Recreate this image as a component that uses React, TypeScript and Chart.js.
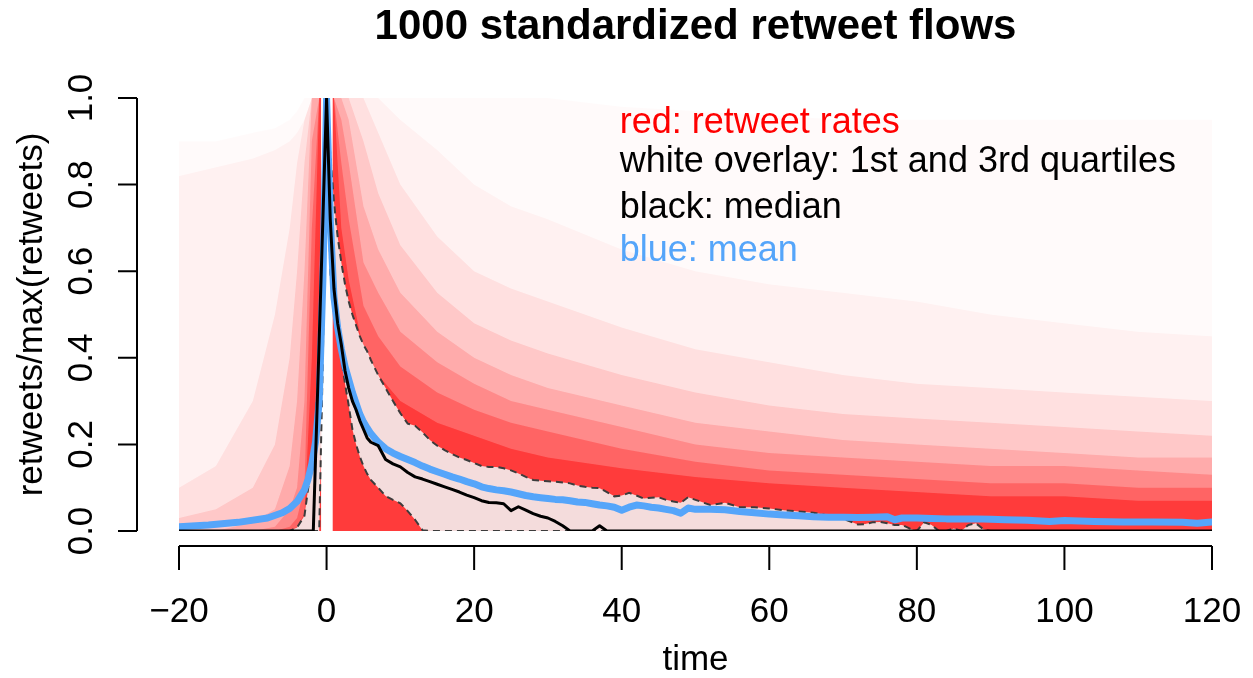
import React, { useEffect, useRef } from 'react';
import { Chart, registerables } from 'chart.js';

Chart.register(...registerables);

// ---------------- DATA ----------------
const xTicks = [-20, 0, 20, 40, 60, 80, 100, 120];
const xTickLabels = ['\u221220', '0', '20', '40', '60', '80', '100', '120'];
const yTicks = [0, 0.2, 0.4, 0.6, 0.8, 1.0];
const yTickLabels = ['0.0', '0.2', '0.4', '0.6', '0.8', '1.0'];

const titleText = '1000 standardized retweet flows';
const xTitle = 'time';
const yTitle = 'retweets/max(retweets)';
const legendLines = ['red: retweet rates', 'white overlay: 1st and 3rd quartiles', 'black: median', 'blue: mean'];

// red cloud of 1000 flows, summarised as density envelopes (outer -> inner)
const cloudX = [-20, -15, -10, -7, -5, -4, -3, -2, -1, 0, 1, 2, 3, 5, 7, 10, 15, 20, 25, 30, 40, 50, 60, 70, 80, 90, 100, 110, 120];
const cloudE1 = [0.9, 0.9, 0.92, 0.93, 0.95, 0.97, 1, 1, 1, 1, 1, 1, 1, 1, 1, 1, 1, 1, 1, 1, 0.98, 0.97, 0.96, 0.95, 0.95, 0.95, 0.95, 0.95, 0.95];
const cloudE2 = [0.82, 0.84, 0.86, 0.88, 0.9, 0.92, 0.95, 1, 1, 1, 1, 1, 1, 1, 1, 0.95, 0.88, 0.8, 0.75, 0.72, 0.65, 0.6, 0.57, 0.55, 0.53, 0.5, 0.48, 0.46, 0.45];
const cloudE3 = [0.1, 0.15, 0.3, 0.5, 0.7, 0.85, 0.95, 1, 1, 1, 1, 1, 1, 1, 0.92, 0.8, 0.68, 0.6, 0.56, 0.53, 0.47, 0.42, 0.39, 0.36, 0.34, 0.33, 0.32, 0.31, 0.3];
const cloudE4 = [0.03, 0.05, 0.1, 0.2, 0.4, 0.6, 0.85, 1, 1, 1, 1, 1, 1, 0.9, 0.78, 0.66, 0.55, 0.48, 0.44, 0.41, 0.36, 0.32, 0.29, 0.27, 0.26, 0.25, 0.24, 0.23, 0.22];
const cloudE5 = [0, 0, 0.02, 0.05, 0.15, 0.3, 0.6, 1, 1, 1, 1, 1, 0.95, 0.75, 0.65, 0.55, 0.46, 0.4, 0.36, 0.33, 0.29, 0.25, 0.23, 0.21, 0.2, 0.19, 0.18, 0.17, 0.17];
const cloudE6 = [0, 0, 0, 0.01, 0.05, 0.1, 0.3, 0.9, 1, 1, 1, 0.95, 0.85, 0.62, 0.55, 0.46, 0.39, 0.34, 0.3, 0.28, 0.24, 0.2, 0.18, 0.17, 0.16, 0.15, 0.15, 0.14, 0.13];
const cloudE7 = [0, 0, 0, 0, 0.01, 0.03, 0.1, 0.7, 1, 1, 1, 0.85, 0.72, 0.52, 0.45, 0.38, 0.32, 0.28, 0.25, 0.23, 0.19, 0.16, 0.14, 0.13, 0.12, 0.11, 0.11, 0.1, 0.1];
const cloudE8 = [0, 0, 0, 0, 0, 0.01, 0.04, 0.4, 1, 1, 1, 0.7, 0.58, 0.42, 0.36, 0.3, 0.25, 0.22, 0.19, 0.17, 0.145, 0.125, 0.11, 0.1, 0.09, 0.08, 0.08, 0.07, 0.07];

// empty gap around the peak
const gapX = [-0.75, 0.85];
const gapY = [1, 1];

// quartiles
const quartX = [
  -20, -5, -4, -3, -2, -1.5, -1, -0.5, 0,
  0.5, 1, 1.5, 2, 2.5, 3, 3.5, 4, 4.5, 5, 5.5,
  6, 7, 8, 9, 10, 11, 12, 13, 14, 15, 16, 17, 18, 19, 20, 21, 22, 23, 24, 25, 26, 27, 28, 29, 30,
  31, 32, 33, 34, 35, 36, 37, 38, 39, 40, 41, 42, 43, 44, 45, 46, 47, 48, 49, 50,
  52, 54, 56, 58, 60, 62, 64, 66, 68, 70,
  71, 72, 73, 74, 75, 76, 77, 78, 79, 80, 81, 82, 83, 84, 85, 86, 87, 88, 89, 90,
  100, 110, 120,
];
const q3Y = [
  0, 0, 0.008, 0.035, 0.16, 0.25, 0.4, 0.65, 1,
  0.87, 0.76, 0.68, 0.62, 0.57, 0.53, 0.5, 0.475, 0.45, 0.43, 0.415,
  0.395, 0.36, 0.33, 0.3, 0.272, 0.248, 0.243, 0.228, 0.21, 0.197, 0.187, 0.178, 0.17, 0.164, 0.157, 0.15, 0.148, 0.148, 0.145, 0.14, 0.133, 0.125, 0.118, 0.116, 0.115,
  0.114, 0.112, 0.11, 0.105, 0.102, 0.1, 0.099, 0.09, 0.08, 0.082, 0.088, 0.082, 0.075, 0.077, 0.078, 0.072, 0.068, 0.065, 0.078, 0.072,
  0.06, 0.065, 0.055, 0.055, 0.052, 0.048, 0.045, 0.042, 0.036, 0.028,
  0.022, 0.015, 0.016, 0.02, 0.021, 0.018, 0.014, 0.014, 0.006, 0, 0.02, 0.014, 0, 0, 0.006, 0, 0.014, 0.018, 0.004, 0,
  0, 0, 0,
];
const q1Y = [
  0, 0, 0, 0, 0, 0, 0, 0.4, 1,
  0.6, 0.5, 0.45, 0.4, 0.34, 0.29, 0.235, 0.2, 0.172, 0.15, 0.132,
  0.118, 0.1, 0.081, 0.072, 0.064, 0.046, 0.026, 0.002, 0, 0, 0, 0, 0, 0, 0, 0, 0, 0, 0, 0, 0, 0, 0, 0, 0,
  0, 0, 0, 0, 0, 0, 0, 0, 0, 0, 0, 0, 0, 0, 0, 0, 0, 0, 0, 0,
  0, 0, 0, 0, 0, 0, 0, 0, 0, 0,
  0, 0, 0, 0, 0, 0, 0, 0, 0, 0, 0, 0, 0, 0, 0, 0, 0, 0, 0, 0,
  0, 0, 0,
];

// median
const medianX = [
  -20, -1.8, -1, 0, 0.5, 1, 1.5, 2, 2.5, 3, 3.5, 4, 4.5, 5, 5.5,
  6, 7, 8, 9, 10, 11, 12, 13, 14, 15, 16, 17, 18, 19, 20, 21, 22,
  23, 24, 25, 26, 27, 28, 29, 30, 31, 32, 33, 34, 35, 36, 37, 38, 120,
];
const medianY = [
  0, 0, 0.44, 1, 0.72, 0.56, 0.48, 0.43, 0.37, 0.33, 0.3, 0.28, 0.255, 0.235, 0.215,
  0.205, 0.197, 0.165, 0.155, 0.148, 0.135, 0.125, 0.12, 0.114, 0.108, 0.102, 0.096, 0.09, 0.083, 0.077, 0.07, 0.066,
  0.065, 0.063, 0.047, 0.056, 0.048, 0.04, 0.034, 0.03, 0.022, 0.012, 0, 0, 0, 0, 0.012, 0, 0,
];

// mean
const meanX = [
  -20, -16, -12, -8, -6, -5, -4, -3, -2.5, -2, -1.5, -1, -0.5, 0,
  0.5, 1, 1.5, 2, 2.5, 3, 3.5, 4, 4.5, 5, 5.5,
  6, 7, 8, 9, 10, 11, 12, 13, 14, 15, 16, 17, 18, 19, 20, 21, 22, 23, 24, 25, 26, 27, 28, 29, 30,
  31, 32, 33, 34, 35, 36, 37, 38, 39, 40, 41, 42, 43, 44, 45, 46, 47, 48, 49, 50,
  52, 54, 56, 58, 60, 62, 64, 66, 68, 70, 72, 74, 76, 77,
  78, 80, 82, 84, 86, 88, 90, 92, 95, 98, 100, 104, 108, 112, 116, 118, 120,
];
const meanY = [
  0.01, 0.014, 0.02, 0.03, 0.042, 0.052, 0.068, 0.095, 0.12, 0.155, 0.205, 0.3, 0.58, 1,
  0.72, 0.54, 0.47, 0.42, 0.38, 0.35, 0.32, 0.295, 0.27, 0.252, 0.238,
  0.225, 0.205, 0.19, 0.18, 0.172, 0.165, 0.158, 0.15, 0.143, 0.137, 0.131, 0.125, 0.12, 0.114, 0.109, 0.102, 0.098, 0.095, 0.093, 0.09, 0.086, 0.082, 0.079, 0.077, 0.075,
  0.073, 0.072, 0.07, 0.067, 0.066, 0.063, 0.06, 0.058, 0.055, 0.048, 0.055, 0.06, 0.058, 0.055, 0.053, 0.05, 0.047, 0.041, 0.053, 0.05,
  0.05, 0.049, 0.045, 0.042, 0.039, 0.037, 0.035, 0.033, 0.032, 0.032, 0.031, 0.032, 0.033, 0.026,
  0.03, 0.03, 0.029, 0.028, 0.028, 0.028, 0.027, 0.026, 0.025, 0.022, 0.024, 0.022, 0.021, 0.021, 0.02, 0.018, 0.021,
];

// ---------------- STYLE ----------------
const FONT = '"Liberation Sans", Arial, Helvetica, sans-serif';
const BLUE = 'rgb(85,165,250)';
const legendColors = ['#ff0000', '#000000', '#000000', BLUE];
const cloudLayers = [cloudE1, cloudE2, cloudE3, cloudE4, cloudE5, cloudE6, cloudE7, cloudE8];
const cloudAlphas = [0.02, 0.04, 0.07, 0.11, 0.15, 0.2, 0.27, 0.42];

const pts = (xs: number[], ys: number[]) => xs.map((x, i) => ({ x, y: ys[i] }));

const rAxesPlugin = {
  id: 'rAxes',
  afterDraw(chart: any) {
    const { ctx, chartArea } = chart;
    const xs = chart.scales.x;
    const ys = chart.scales.y;
    ctx.save();
    ctx.strokeStyle = '#000';
    ctx.lineWidth = 2;
    ctx.lineCap = 'butt';
    const ax = chartArea.left - 42;
    const ay = chartArea.bottom + 15;
    ctx.beginPath();
    ctx.moveTo(ax, ys.getPixelForValue(yTicks[0]));
    ctx.lineTo(ax, ys.getPixelForValue(yTicks[yTicks.length - 1]));
    yTicks.forEach((v) => {
      const p = ys.getPixelForValue(v);
      ctx.moveTo(ax, p);
      ctx.lineTo(ax - 19, p);
    });
    ctx.moveTo(xs.getPixelForValue(xTicks[0]), ay);
    ctx.lineTo(xs.getPixelForValue(xTicks[xTicks.length - 1]), ay);
    xTicks.forEach((v) => {
      const p = xs.getPixelForValue(v);
      ctx.moveTo(p, ay);
      ctx.lineTo(p, ay + 24);
    });
    ctx.stroke();

    ctx.font = '36px ' + FONT;
    ctx.textAlign = 'left';
    ctx.textBaseline = 'alphabetic';
    const lx = xs.getPixelForValue(40) - 2;
    const offs = [35, 74, 120, 163];
    legendLines.forEach((t, i) => {
      ctx.fillStyle = legendColors[i];
      ctx.fillText(t, lx, chartArea.top + offs[i]);
    });
    ctx.restore();
  },
};

export default function App() {
  const ref = useRef<HTMLCanvasElement | null>(null);

  useEffect(() => {
    if (!ref.current) return;
    const datasets: any[] = [];
    // 0: median, 1: mean, 2: q1, 3: q3, 4: gap, 5..: cloud
    datasets.push({
      label: 'median', data: pts(medianX, medianY), borderColor: '#000', borderWidth: 3,
      pointRadius: 0, fill: false, order: 0, tension: 0, borderJoinStyle: 'round',
    });
    datasets.push({
      label: 'mean', data: pts(meanX, meanY), borderColor: BLUE, borderWidth: 7,
      pointRadius: 0, fill: false, order: 1, tension: 0, borderJoinStyle: 'round', borderCapStyle: 'round',
    });
    datasets.push({
      label: 'q1', data: pts(quartX, q1Y), borderColor: '#3c3c3c', borderWidth: 2, borderDash: [7, 5],
      pointRadius: 0, fill: false, order: 2, tension: 0,
    });
    datasets.push({
      label: 'q3', data: pts(quartX, q3Y), borderColor: '#3c3c3c', borderWidth: 2, borderDash: [7, 5],
      pointRadius: 0, fill: 2, backgroundColor: 'rgba(243,243,243,0.88)', order: 3, tension: 0,
    });
    datasets.push({
      label: 'gap', data: pts(gapX, gapY), borderWidth: 0, borderColor: 'rgba(0,0,0,0)',
      pointRadius: 0, fill: 'origin', backgroundColor: '#ffffff', order: 4, tension: 0,
    });
    cloudLayers.forEach((layer, i) => {
      datasets.push({
        label: 'cloud' + (i + 1), data: pts(cloudX, layer), borderWidth: 0, borderColor: 'rgba(0,0,0,0)',
        pointRadius: 0, fill: 'origin', backgroundColor: `rgba(255,0,0,${cloudAlphas[i]})`,
        order: 5 + i, tension: 0,
      });
    });

    const chart = new Chart(ref.current, {
      type: 'line',
      data: { datasets },
      options: {
        animation: false,
        responsive: false,
        devicePixelRatio: 1,
        layout: { padding: { left: 0, right: 41, top: 0, bottom: 0 } },
        plugins: {
          legend: { display: false },
          tooltip: { enabled: false },
          title: {
            display: true,
            text: titleText,
            color: '#000',
            fullSize: false,
            font: { family: FONT, size: 42, weight: 'bold', lineHeight: 1.2 },
            padding: { top: 2, bottom: 45.6 },
          },
        },
        scales: {
          x: {
            type: 'linear',
            min: -20,
            max: 120,
            afterFit: (s: any) => { s.height = 147; s.paddingLeft = 0; s.paddingRight = 0; },
            afterBuildTicks: (s: any) => { s.ticks = xTicks.map((v) => ({ value: v })); },
            grid: { display: false, drawTicks: false },
            border: { display: false },
            ticks: {
              autoSkip: false, minRotation: 0, maxRotation: 0, padding: 60, color: '#000',
              font: { family: FONT, size: 35, lineHeight: 1.2 },
              callback: (v: any) => { const i = xTicks.indexOf(Number(v)); return i >= 0 ? xTickLabels[i] : ''; },
            },
            title: {
              display: true, text: xTitle, color: '#000',
              font: { family: FONT, size: 35, lineHeight: 1 }, padding: 0,
            },
          },
          y: {
            type: 'linear',
            min: 0,
            max: 1,
            afterFit: (s: any) => { s.width = 179; s.paddingTop = 0; s.paddingBottom = 0; },
            afterBuildTicks: (s: any) => { s.ticks = yTicks.map((v) => ({ value: v })); },
            grid: { display: false, drawTicks: false },
            border: { display: false },
            ticks: {
              autoSkip: false, minRotation: 90, maxRotation: 90, crossAlign: 'center', padding: 72, color: '#000',
              font: { family: FONT, size: 35, lineHeight: 1.2 },
              callback: (v: any) => {
                const i = yTicks.findIndex((t) => Math.abs(t - Number(v)) < 1e-9);
                return i >= 0 ? yTickLabels[i] : '';
              },
            },
            title: {
              display: true, text: yTitle, color: '#000',
              font: { family: FONT, size: 35, lineHeight: 1.2 }, padding: { top: 11, bottom: 0 },
            },
          },
        },
      } as any,
      plugins: [rAxesPlugin],
    });
    return () => chart.destroy();
  }, []);

  return (
    <div style={{ position: 'absolute', left: 0, top: 0, width: 1253, height: 678, background: '#fff' }}>
      <canvas ref={ref} width={1253} height={678} style={{ display: 'block', width: 1253, height: 678 }} />
    </div>
  );
}
